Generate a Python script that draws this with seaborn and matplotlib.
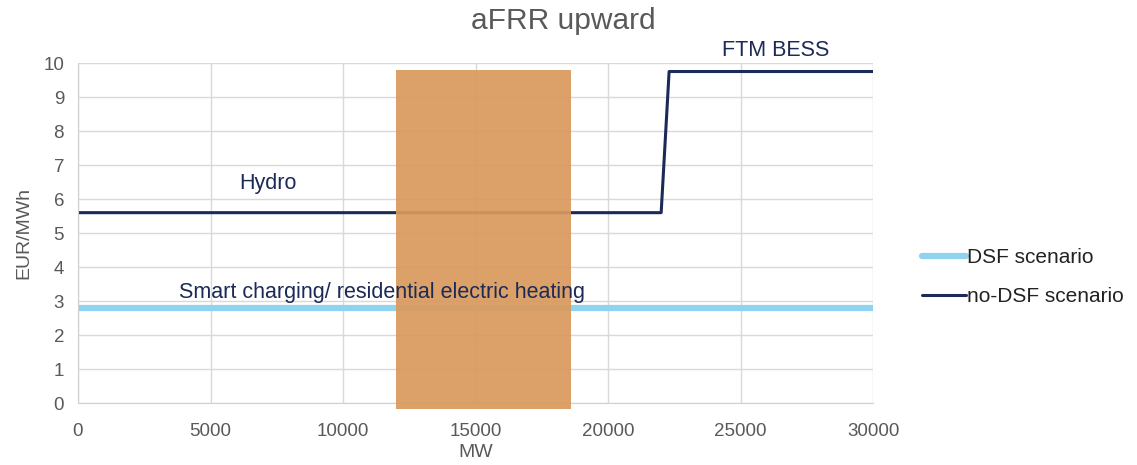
import matplotlib
matplotlib.use("Agg")
import matplotlib.pyplot as plt
import seaborn as sns
import pandas as pd
from matplotlib.patches import Rectangle

# data
dsf_x = [0, 30000]
dsf_y = [2.8, 2.8]
nodsf_x = [0, 22000, 22300, 30000]
nodsf_y = [5.6, 5.6, 9.75, 9.75]
band_x = [12000, 18600]
band_y = [-0.18, 9.8]

df = pd.concat([
    pd.DataFrame({"MW": dsf_x, "EUR/MWh": dsf_y, "scenario": "DSF scenario"}),
    pd.DataFrame({"MW": nodsf_x, "EUR/MWh": nodsf_y, "scenario": "no-DSF scenario"}),
])

sns.set_style("white")
plt.rcParams["font.family"] = ["Liberation Sans", "DejaVu Sans"]

gray = "#595959"
navy = "#1b2a56"
fig = plt.figure(figsize=(11.37, 4.65), dpi=100)
ax = fig.add_axes([0.0686, 0.133, 0.6994, 0.7315])

sns.lineplot(data=df, x="MW", y="EUR/MWh", hue="scenario", sort=False,
             palette={"DSF scenario": "#8fd3ee", "no-DSF scenario": navy},
             ax=ax, legend=False)
ax.lines[0].set_linewidth(4.5)
ax.lines[1].set_linewidth(2.2)

ax.add_patch(Rectangle((band_x[0], band_y[0]), band_x[1] - band_x[0], band_y[1] - band_y[0],
                       facecolor="#d99a5e", alpha=0.93, edgecolor="none",
                       clip_on=False, zorder=3))

ax.text(6100, 6.3, "Hydro", fontsize=15.5, color=navy, zorder=4)
ax.text(24300, 10.2, "FTM BESS", fontsize=15.5, color=navy, zorder=4)
ax.text(3800, 3.1, "Smart charging/ residential electric heating",
        fontsize=15.5, color=navy, zorder=4)

ax.set_xlim(0, 30000)
ax.set_ylim(0, 10)
ax.set_xticks(range(0, 30001, 5000))
ax.set_yticks(range(0, 11))
ax.grid(True, color="#d9d9d9", linewidth=1)
ax.set_axisbelow(True)
for s in ["top", "right"]:
    ax.spines[s].set_visible(False)
for s in ["left", "bottom"]:
    ax.spines[s].set_color("#d0d0d0")
ax.tick_params(colors=gray, labelsize=13.5, length=0)
ax.tick_params(axis="x", pad=14)
ax.tick_params(axis="y", pad=10)
ax.set_xlabel("MW", fontsize=14, color=gray, labelpad=3)
ax.set_ylabel("EUR/MWh", fontsize=14, color=gray, labelpad=8)
fig.suptitle("aFRR upward", fontsize=21.5, color=gray, x=0.495, y=0.985)

handles = [plt.Line2D([], [], color="#8fd3ee", linewidth=4.5),
           plt.Line2D([], [], color=navy, linewidth=2.2)]
fig.legend(handles, ["DSF scenario", "no-DSF scenario"], loc="center left",
           bbox_to_anchor=(0.811, 0.404), frameon=False, fontsize=15,
           borderpad=0, borderaxespad=0,
           handlelength=2.1, handletextpad=0.05, labelspacing=0.95, labelcolor="#222222")

fig.savefig("out.png", dpi=100)
